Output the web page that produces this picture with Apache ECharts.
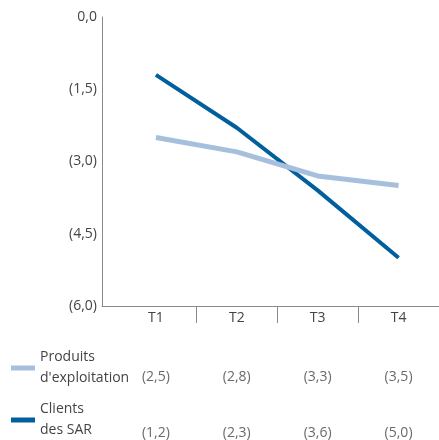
<!DOCTYPE html>
<html>
<head>
<meta charset="utf-8">
<script src="https://cdn.jsdelivr.net/npm/echarts@6/dist/echarts.min.js"></script>
<style>
  html, body { margin: 0; padding: 0; background: #fff; }
  #chart { width: 439px; height: 440px; }
</style>
</head>
<body>
<div id="chart"></div>
<script>
var quarters = ['T1', 'T2', 'T3', 'T4'];
var produitsExploitation = [2.5, 2.8, 3.3, 3.5];
var clientsSAR = [1.2, 2.3, 3.6, 5.0];
var seriesNames = ['Produits\nd\'exploitation', 'Clients\ndes SAR'];
var quarterPos = [1, 2, 3, 4];
var dividerPos = [1.5, 2.5, 3.5];

var darkBlue = '#005f9c';
var lightBlue = '#a6bfdc';
var textColor = '#444';
var fontFam = '"Open Sans", Lato, sans-serif';
var fontSz = 14;

function fmt(v) {
    if (v === 0) return '0,0';
    return '(' + v.toFixed(1).replace('.', ',') + ')';
}

function pairs(arr) {
    return arr.map(function (v, i) { return [quarterPos[i], v]; });
}

function tableRow(arr, row) {
    return arr.map(function (v, i) { return [quarterPos[i], row, v]; });
}

function legendBox(name, top) {
    return {
        data: [name],
        orient: 'vertical',
        left: 11,
        top: top,
        padding: 0,
        icon: 'rect',
        itemWidth: 24,
        itemHeight: 5,
        selectedMode: false,
        textStyle: { fontSize: fontSz, lineHeight: 21, color: textColor, fontFamily: fontFam }
    };
}

var chart = echarts.init(document.getElementById('chart'));

var option = {
    animation: false,
    textStyle: { fontFamily: fontFam, color: textColor },
    legend: [legendBox(seriesNames[0], 347), legendBox(seriesNames[1], 399)],
    grid: [
        { left: 102, right: 0, top: 17, height: 289, outerBoundsMode: 'none' },
        { left: 102, right: 0, top: 377, height: 56, outerBoundsMode: 'none' }
    ],
    xAxis: [{
        gridIndex: 0,
        type: 'value',
        position: 'bottom',
        min: 1 / 3,
        max: 4.5,
        splitLine: { show: false },
        axisLine: { show: true, onZero: false, lineStyle: { color: '#8a8a8a', width: 1 } },
        axisTick: { show: true, length: 17, customValues: dividerPos, lineStyle: { color: '#8a8a8a' } },
        axisLabel: {
            customValues: quarterPos,
            margin: 5,
            fontSize: fontSz,
            color: textColor,
            fontFamily: fontFam,
            formatter: function (v) { return quarters[Math.round(v) - 1]; }
        }
    }, {
        gridIndex: 1,
        type: 'value',
        min: 1 / 3,
        max: 4.5,
        show: false
    }],
    yAxis: [{
        gridIndex: 0,
        type: 'value',
        inverse: true,
        min: 0,
        max: 6,
        interval: 1.5,
        splitLine: { show: false },
        axisLine: { show: true, lineStyle: { color: '#8a8a8a', width: 1 } },
        axisTick: { show: false },
        axisLabel: { fontSize: fontSz, margin: 5, color: textColor, fontFamily: fontFam, formatter: fmt }
    }, {
        gridIndex: 1,
        type: 'value',
        inverse: true,
        min: 0,
        max: 1,
        show: false
    }],
    series: [{
        name: seriesNames[1],
        type: 'line',
        data: pairs(clientsSAR),
        symbol: 'none',
        color: darkBlue,
        lineStyle: { color: darkBlue, width: 4 }
    }, {
        name: seriesNames[0],
        type: 'line',
        data: pairs(produitsExploitation),
        symbol: 'none',
        color: lightBlue,
        lineStyle: { color: lightBlue, width: 5 }
    }, {
        type: 'scatter',
        xAxisIndex: 1,
        yAxisIndex: 1,
        symbolSize: 0.1,
        itemStyle: { color: 'rgba(0,0,0,0)' },
        data: tableRow(produitsExploitation, 0).concat(tableRow(clientsSAR, 1)),
        label: {
            show: true,
            position: 'inside',
            fontSize: fontSz,
            color: textColor,
            fontFamily: fontFam,
            formatter: function (p) { return fmt(p.data[2]); }
        }
    }]
};

chart.setOption(option);
</script>
</body>
</html>
